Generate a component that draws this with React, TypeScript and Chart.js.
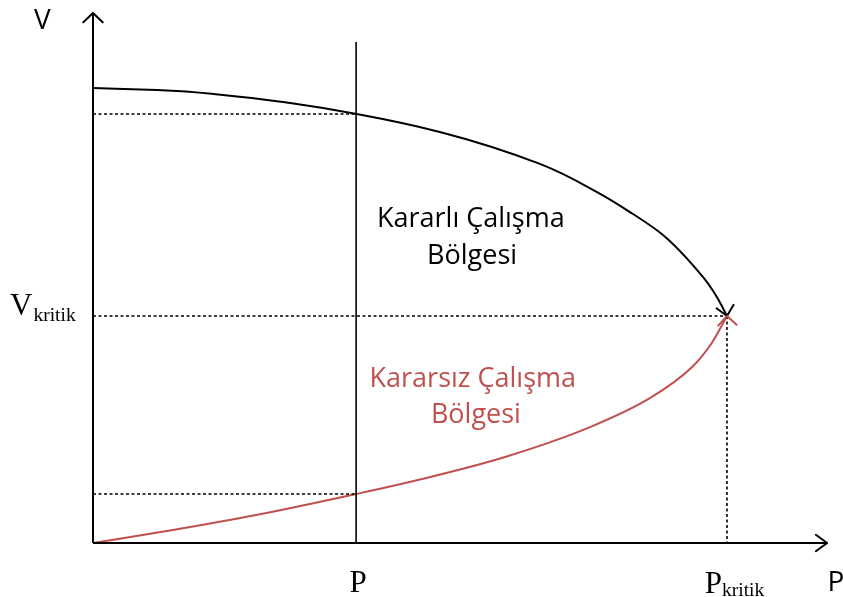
import React, { useEffect, useRef } from "react";
import { Chart, registerables } from "chart.js";

Chart.register(...registerables);

// Normalised units: P_kritik = 1, V_kritik = 1
const upperP = [0, 0.101, 0.205, 0.311, 0.416, 0.547, 0.705, 0.795, 0.847, 0.899, 0.962, 0.984, 1.0];
const upperV = [2.004, 1.996, 1.974, 1.938, 1.89, 1.811, 1.67, 1.546, 1.458, 1.357, 1.172, 1.084, 1.0];
const lowerP = [0, 0.126, 0.257, 0.415, 0.519, 0.65, 0.781, 0.879, 0.945, 0.976, 1.0];
const lowerV = [0, 0.057, 0.123, 0.216, 0.282, 0.379, 0.507, 0.639, 0.775, 0.881, 1.0];

const P_OP = 0.415; // operating power P
const V_OP_HIGH = 1.89;
const V_OP_LOW = 0.216;
const P_KRIT = 1.0;
const V_KRIT = 1.0;
const X_AXIS_END = 1.158;
const Y_AXIS_END = 2.335;
const P_LINE_TOP = 2.207;

const X_MIN = -0.1467;
const X_MAX = 1.183;
const Y_MIN = -0.2379;
const Y_MAX = 2.3921;

const RED = "#C0504D";
const SERIF = '"Liberation Serif", "Times New Roman", serif';
const SANS = '"Open Sans", "Liberation Sans", sans-serif';

const pts = (xs: number[], ys: number[]) => xs.map((x, i) => ({ x, y: ys[i] }));

function head(ctx: CanvasRenderingContext2D, tx: number, ty: number, bx: number, by: number, len: number, ang: number, color: string) {
  const n = Math.hypot(bx, by);
  const ux = bx / n, uy = by / n;
  ctx.save();
  ctx.strokeStyle = color;
  ctx.lineWidth = 2;
  ctx.lineCap = "round";
  ctx.beginPath();
  for (const s of [1, -1]) {
    const a = s * ang;
    const rx = ux * Math.cos(a) - uy * Math.sin(a);
    const ry = ux * Math.sin(a) + uy * Math.cos(a);
    ctx.moveTo(tx, ty);
    ctx.lineTo(tx + rx * len, ty + ry * len);
  }
  ctx.stroke();
  ctx.restore();
}

const decor = {
  id: "decor",
  afterDatasetsDraw(chart: any) {
    const ctx: CanvasRenderingContext2D = chart.ctx;
    const xs = chart.scales.x, ys = chart.scales.y;
    const px = (v: number) => xs.getPixelForValue(v);
    const py = (v: number) => ys.getPixelForValue(v);

    // axis arrowheads
    head(ctx, px(0), py(Y_AXIS_END), 0, 1, 13.5, (46 * Math.PI) / 180, "#000");
    head(ctx, px(X_AXIS_END), py(0), -1, 0, 14, (36 * Math.PI) / 180, "#000");

    // curve-end arrowheads at the nose
    head(ctx, px(P_KRIT), py(V_KRIT), -0.2, -1, 13, (42 * Math.PI) / 180, "#000");
    head(ctx, px(P_KRIT), py(V_KRIT), 0.05, 1, 13, (45 * Math.PI) / 180, RED);

    ctx.save();
    ctx.textBaseline = "alphabetic";
    // axis names
    ctx.fillStyle = "#000";
    ctx.font = `28px ${SANS}`;
    ctx.textAlign = "center";
    ctx.fillText("V", px(-0.08), py(2.264));
    ctx.fillText("P", px(1.172), py(-0.211));

    // serif labels
    ctx.font = `31px ${SERIF}`;
    ctx.fillText("P", px(0.418), py(-0.216));
    ctx.textAlign = "left";
    let x0 = px(-0.1309);
    ctx.fillText("V", x0, py(1.004));
    let w = ctx.measureText("V").width;
    ctx.font = `19.5px ${SERIF}`;
    ctx.fillText("kritik", x0 + w + 1, py(0.98));

    ctx.font = `31px ${SERIF}`;
    x0 = px(0.965);
    ctx.fillText("P", x0, py(-0.22));
    w = ctx.measureText("P").width;
    ctx.font = `19.5px ${SERIF}`;
    ctx.fillText("kritik", x0 + w, py(-0.233));

    // region labels
    ctx.textAlign = "center";
    ctx.font = `27px ${SANS}`;
    ctx.fillStyle = "#000";
    ctx.fillText("Kararlı Çalışma", px(0.596), py(1.392));
    ctx.fillText("Bölgesi", px(0.598), py(1.229));
    ctx.fillStyle = RED;
    ctx.fillText("Kararsız Çalışma", px(0.599), py(0.687));
    ctx.fillText("Bölgesi", px(0.604), py(0.529));
    ctx.restore();
  },
};

export default function App() {
  const ref = useRef<HTMLCanvasElement>(null);
  useEffect(() => {
    document.body.style.margin = "0";
    const solid = (data: any[], color: string, width: number) => ({
      data, borderColor: color, borderWidth: width, showLine: true, pointRadius: 0, fill: false, tension: 0,
    });
    const dotted = (data: any[]) => ({
      data, borderColor: "#000", borderWidth: 1.6, borderDash: [3, 2.5], showLine: true, pointRadius: 0, fill: false, tension: 0,
    });
    const chart = new Chart(ref.current!, {
      type: "scatter",
      data: {
        datasets: [
          dotted([{ x: 0, y: V_OP_HIGH }, { x: P_OP, y: V_OP_HIGH }]),
          dotted([{ x: 0, y: V_KRIT }, { x: P_KRIT, y: V_KRIT }]),
          dotted([{ x: 0, y: V_OP_LOW }, { x: P_OP, y: V_OP_LOW }]),
          dotted([{ x: P_KRIT, y: V_KRIT }, { x: P_KRIT, y: 0 }]),
          solid([{ x: P_OP, y: 0 }, { x: P_OP, y: P_LINE_TOP }], "#000", 1.6),
          solid([{ x: 0, y: 0 }, { x: 0, y: Y_AXIS_END }], "#000", 2),
          solid([{ x: 0, y: 0 }, { x: X_AXIS_END, y: 0 }], "#000", 2),
          { ...solid(pts(upperP, upperV), "#000", 2), cubicInterpolationMode: "monotone", indexAxis: "y" },
          { ...solid(pts(lowerP, lowerV), RED, 2), cubicInterpolationMode: "monotone" },
        ] as any,
      },
      options: {
        animation: false,
        responsive: true,
        maintainAspectRatio: false,
        layout: { padding: 0 },
        plugins: { legend: { display: false }, tooltip: { enabled: false } },
        scales: {
          x: { type: "linear", min: X_MIN, max: X_MAX, display: false },
          y: { type: "linear", min: Y_MIN, max: Y_MAX, display: false },
        },
      },
      plugins: [decor],
    });
    return () => chart.destroy();
  }, []);
  return (
    <div style={{ position: "relative", width: 843, height: 597, background: "#fff" }}>
      <canvas ref={ref} />
    </div>
  );
}
